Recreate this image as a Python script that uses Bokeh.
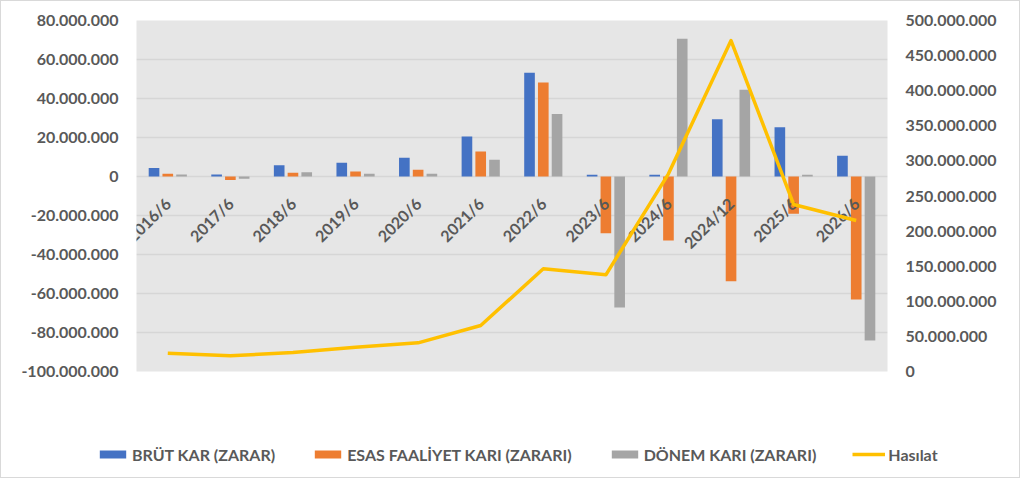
from math import pi
from bokeh.plotting import figure
from bokeh.layouts import column
from bokeh.models import (ColumnDataSource, FactorRange, Range1d, LinearAxis,
                          FixedTicker, CustomJSTickFormatter, Legend, LegendItem)
from bokeh.transform import dodge
from bokeh.core.properties import value
from bokeh.embed import file_html
from bokeh.resources import INLINE

categories = ["2016/6", "2017/6", "2018/6", "2019/6", "2020/6", "2021/6",
              "2022/6", "2023/6", "2024/6", "2024/12", "2025/6", "2026/6"]
brut_kar = [4_300_000, 1_000_000, 5_800_000, 7_000_000, 9_600_000, 20_500_000,
            53_200_000, 900_000, 900_000, 29_400_000, 25_300_000, 10_600_000]
esas_faaliyet = [1_400_000, -1_800_000, 1_900_000, 2_600_000, 3_400_000, 12_800_000,
                 48_200_000, -29_100_000, -32_800_000, -53_700_000, -19_100_000, -63_100_000]
donem_kari = [1_000_000, -1_200_000, 2_200_000, 1_400_000, 1_400_000, 8_600_000,
              32_100_000, -67_200_000, 70_600_000, 44_500_000, 900_000, -84_100_000]
hasilat = [26_000_000, 22_300_000, 27_000_000, 34_600_000, 40_800_000, 65_500_000,
           146_300_000, 137_700_000, 281_600_000, 471_500_000, 237_900_000, 215_100_000]

left_ticks = [-100_000_000, -80_000_000, -60_000_000, -40_000_000, -20_000_000, 0,
              20_000_000, 40_000_000, 60_000_000, 80_000_000]
right_ticks = [0, 50_000_000, 100_000_000, 150_000_000, 200_000_000, 250_000_000,
               300_000_000, 350_000_000, 400_000_000, 450_000_000, 500_000_000]

series_labels = ["BRÜT KAR (ZARAR)", "ESAS FAALİYET KARI (ZARARI)",
                 "DÖNEM KARI (ZARARI)", "Hasılat"]

BLUE = "#4472c4"
ORANGE = "#ed7d31"
GRAY = "#a5a5a5"
YELLOW = "#ffc000"
TEXT = "#595959"
FONT = "Lato"

source = ColumnDataSource(dict(cat=categories, brut=brut_kar, esas=esas_faaliyet,
                               donem=donem_kari, hasilat=hasilat))


def draw_bars(fig):
    bw = 0.17
    r1 = fig.vbar(x=dodge("cat", -0.22, range=fig.x_range), top="brut", bottom=0,
                  width=bw, source=source, fill_color=BLUE, line_color=None)
    r2 = fig.vbar(x=dodge("cat", 0.0, range=fig.x_range), top="esas", bottom=0,
                  width=bw, source=source, fill_color=ORANGE, line_color=None)
    r3 = fig.vbar(x=dodge("cat", 0.22, range=fig.x_range), top="donem", bottom=0,
                  width=bw, source=source, fill_color=GRAY, line_color=None)
    return [r1, r2, r3]


def draw_line(fig):
    return fig.line(x="cat", y="hasilat", source=source, y_range_name="right",
                    line_color=YELLOW, line_width=3.5, line_join="round")


p = figure(width=1018, height=419, x_range=FactorRange(*categories),
           y_range=Range1d(-100_000_000, 80_000_000), title=None,
           output_backend="svg", toolbar_location=None,
           min_border_left=135, min_border_right=132,
           min_border_top=19, min_border_bottom=49)
p.frame_align = False
p.background_fill_color = "#e6e6e6"
p.border_fill_color = "white"
p.outline_line_color = None
p.xaxis.visible = False
p.xgrid.grid_line_color = None
p.ygrid.grid_line_color = "#d6d6d6"
p.ygrid.grid_line_width = 1.5
p.ygrid.ticker = FixedTicker(ticks=left_ticks)

fmt = CustomJSTickFormatter(code="""
    const s = Math.round(Math.abs(tick)).toString().replace(/\\B(?=(\\d{3})+(?!\\d))/g, '.');
    return (tick < 0 ? '-' : '') + s;
""")

p.yaxis.ticker = FixedTicker(ticks=left_ticks)
p.yaxis.formatter = fmt

p.extra_y_ranges = {"right": Range1d(0, 500_000_000)}
right_axis = LinearAxis(y_range_name="right", ticker=FixedTicker(ticks=right_ticks),
                        formatter=fmt)
p.add_layout(right_axis, "right")

for ax in p.yaxis:
    ax.axis_line_color = None
    ax.major_tick_line_color = None
    ax.minor_tick_line_color = None
    ax.major_tick_out = 0
    ax.major_label_text_font = FONT
    ax.major_label_text_font_style = "bold"
    ax.major_label_text_font_size = "16px"
    ax.major_label_text_color = TEXT
    ax.major_label_standoff = 18

draw_bars(p)
# category labels sit along the zero line, rotated like Excel does
p.text(x=categories, y=0, text=categories, angle=pi / 4,
       x_offset=0, y_offset=24, text_align="right", text_baseline="middle",
       text_font=value(FONT), text_font_style="bold", text_font_size="16px",
       text_color=TEXT)
draw_line(p)

# legend strip under the chart; it holds hidden copies of the series as legend proxies
lg = figure(width=1018, height=57, x_range=FactorRange(*categories),
            y_range=Range1d(-100_000_000, 80_000_000), title=None,
            output_backend="svg", toolbar_location=None, min_border=0)
lg.frame_align = False
lg.extra_y_ranges = {"right": Range1d(0, 500_000_000)}
lg.axis.visible = False
lg.grid.grid_line_color = None
lg.outline_line_color = None
proxies = draw_bars(lg) + [draw_line(lg)]
for r in proxies:
    r.visible = False

legend = Legend(items=[LegendItem(label=lab, renderers=[r])
                       for lab, r in zip(series_labels, proxies)],
                orientation="horizontal", location=(95, 13))
legend.glyph_width = 33
legend.glyph_height = 10
legend.label_standoff = 3
legend.spacing = 36
legend.padding = 0
legend.margin = 0
legend.label_height = 20
legend.border_line_color = None
legend.background_fill_alpha = 0
legend.label_text_font = FONT
legend.label_text_font_style = "bold"
legend.label_text_font_size = "16px"
legend.label_text_color = TEXT
lg.add_layout(legend)

layout = column(p, lg, spacing=0, styles={"border": "1px solid #d9d9d9"})
open("out.html", "w").write(file_html(layout, INLINE))
